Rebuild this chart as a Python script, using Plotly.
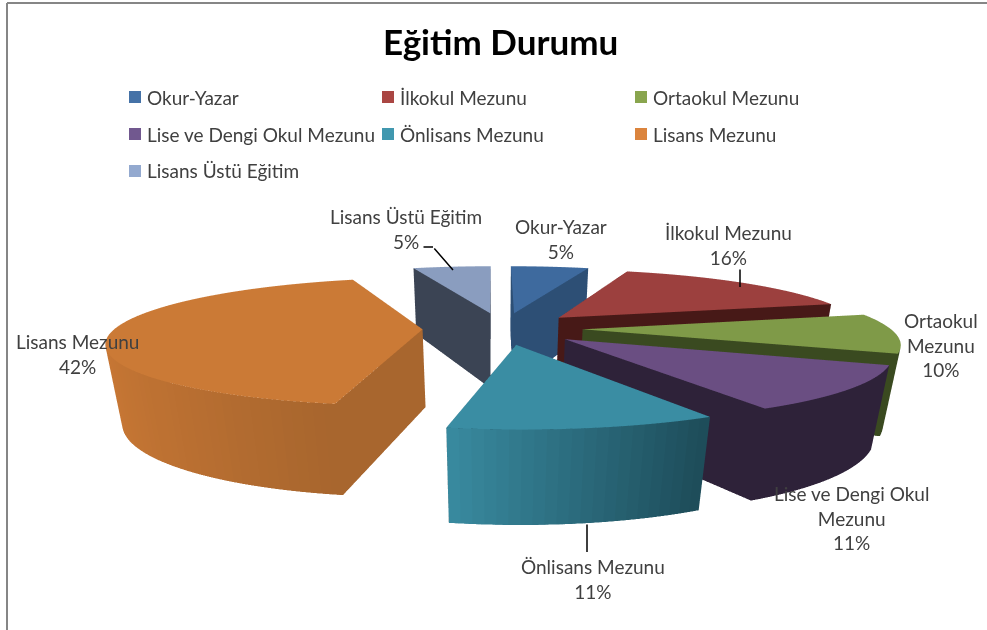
import math
import plotly.graph_objects as go

CATEGORIES = ["Okur-Yazar", "İlkokul Mezunu", "Ortaokul Mezunu", "Lise ve Dengi Okul Mezunu",
              "Önlisans Mezunu", "Lisans Mezunu", "Lisans Üstü Eğitim"]
VALUES = [5, 16, 10, 11, 11, 42, 5]
TOP_COLORS = ["#3E6A9E", "#9C403E", "#7F9A48", "#6A4E82", "#3A8DA3", "#CB7A36", "#8A9DBF"]
SIDE_COLORS = ["#2D4F75", "#471917", "#3A4A20", "#2E2239", "#1E4D5A", "#A8662E", "#3B4454"]
RIM_LEFT = ["#2D4F75", "#471917", "#3A4A20", "#2E2239", "#3A8CA2", "#C97835", "#3B4454"]
RIM_RIGHT = ["#2D4F75", "#471917", "#3A4A20", "#2E2239", "#1E4D5A", "#A8662E", "#3B4454"]
LEGEND_COLORS = ["#4572A7", "#AA4643", "#89A54E", "#71588F", "#4198AF", "#DB843D", "#93A9CF"]
EXPLODE = 0.26
W, H = 987, 630


def hex2rgb(c):
    return [int(c[i:i + 2], 16) for i in (1, 3, 5)]


def mix(a, b, t):
    a, b = hex2rgb(a), hex2rgb(b)
    return "rgb(%d,%d,%d)" % tuple(a[i] + (b[i] - a[i]) * t for i in range(3))


fig = go.Figure()
total = sum(VALUES)
cum = 0.0
for i, v in enumerate(VALUES):
    a0 = cum / total * 2 * math.pi
    a1 = (cum + v) / total * 2 * math.pi
    cum += v
    mid = (a0 + a1) / 2
    ox, oy = EXPLODE * math.sin(mid), EXPLODE * math.cos(mid)
    n = max(3, int(v * 2))
    angs = [a0 + (a1 - a0) * k / n for k in range(n + 1)]
    sins = [math.sin(a) for a in angs]
    smin, smax = min(sins), max(sins)
    xs, ys, zs = [ox, ox], [oy, oy], [1.0, 0.0]
    for a in angs:
        px, py = ox + math.sin(a), oy + math.cos(a)
        xs += [px, px]
        ys += [py, py]
        zs += [1.0, 0.0]
    I, J, K, fc = [], [], [], []
    for k in range(n):
        t0 = 2 + 2 * k
        # top
        I.append(0); J.append(t0); K.append(t0 + 2); fc.append(TOP_COLORS[i])
        # rim
        t = (sins[k] - smin) / (smax - smin)
        col = mix(RIM_LEFT[i], RIM_RIGHT[i], t)
        I += [t0, t0]; J += [t0 + 1, t0 + 3]; K += [t0 + 3, t0 + 2]; fc += [col, col]
    # cut faces
    last = 2 + 2 * n
    I += [0, 0, 0, 0]
    J += [1, 3, 1, last + 1]
    K += [3, 2, last + 1, last]
    fc += [SIDE_COLORS[i]] * 4
    fig.add_trace(go.Mesh3d(x=xs, y=ys, z=zs, i=I, j=J, k=K, facecolor=fc, flatshading=True,
                            name=CATEGORIES[i], hoverinfo="name",
                            lighting=dict(ambient=1, diffuse=0, specular=0, fresnel=0, roughness=1),
                            showscale=False))

axis = dict(visible=False, showgrid=False, zeroline=False, showbackground=False)
CX, CZ = -0.036, 0.232
fig.update_layout(
    width=W, height=H, margin=dict(l=0, r=0, t=0, b=0), paper_bgcolor="white", showlegend=False,
    font=dict(family="Lato", color="#404040"),
    scene=dict(
        domain=dict(x=[0, 1], y=[0, 1]),
        bgcolor="rgba(0,0,0,0)",
        xaxis=dict(axis, range=[-1.5, 1.5]),
        yaxis=dict(axis, range=[-1.5, 1.5]),
        zaxis=dict(axis, range=[0, 1]),
        aspectmode="manual",
        aspectratio=dict(x=3.663, y=1.866, z=0.35),
        camera=dict(projection=dict(type="perspective"), eye=dict(x=CX, y=-2.78, z=1.124 + CZ),
                    center=dict(x=CX, y=0, z=CZ), up=dict(x=0, y=0, z=1)),
    ),
)

LEGEND_X = [129, 382, 635]
LEGEND_Y = [97, 134, 171]
shapes = [
    dict(type="line", xref="paper", yref="paper", x0=7 / W, x1=7 / W, y0=0, y1=1 - 3 / H, line=dict(color="#868686", width=2)),
    dict(type="line", xref="paper", yref="paper", x0=7 / W, x1=987 / W, y0=1 - 3 / H, y1=1 - 3 / H, line=dict(color="#868686", width=2)),
]
annots = [dict(text="<b>Eğitim Durumu</b>", x=500 / W, y=1 - 41 / H, xref="paper", yref="paper", showarrow=False,
               font=dict(size=35, color="black"), xanchor="center", yanchor="middle")]
for n, name in enumerate(CATEGORIES):
    lx, ly = LEGEND_X[n % 3], LEGEND_Y[n // 3]
    shapes.append(dict(type="rect", xref="paper", yref="paper", x0=lx / W, x1=(lx + 12) / W,
                       y0=1 - (ly + 6) / H, y1=1 - (ly - 6) / H, fillcolor=LEGEND_COLORS[n], line=dict(width=0)))
    annots.append(dict(text=name, x=(lx + 16) / W, y=1 - ly / H, xref="paper", yref="paper", showarrow=False,
                       xanchor="left", yanchor="middle", font=dict(size=19, color="#404040")))

LABELS = ["Okur-Yazar<br>5%", "İlkokul Mezunu<br>16%", "Ortaokul<br>Mezunu<br>10%", "Lise ve Dengi Okul<br>Mezunu<br>11%",
          "Önlisans Mezunu<br>11%", "Lisans Mezunu<br>42%", "Lisans Üstü Eğitim<br>5%"]
LABEL_POS = [(561, 239), (728, 245), (941, 345), (851, 518), (593, 579), (77, 354), (406, 229)]
for txt, (x, y) in zip(LABELS, LABEL_POS):
    annots.append(dict(text=txt, x=x / W, y=1 - y / H, xref="paper", yref="paper", showarrow=False,
                       xanchor="center", yanchor="middle", font=dict(size=19, color="#404040")))
LEADERS = [((740, 268), (740, 287)), ((587, 523), (587, 552)), ((422, 247), (433, 247)), ((433, 247), (453, 270))]
for (x0, y0), (x1, y1) in LEADERS:
    annots.append(dict(text="", x=x1 / W, y=1 - y1 / H, xref="paper", yref="paper", ax=x0 - x1, ay=y0 - y1,
                       axref="pixel", ayref="pixel", showarrow=True, arrowhead=0, arrowwidth=1.5, arrowcolor="black"))
fig.update_layout(shapes=shapes, annotations=annots)
fig.write_html("out.html", config=dict(displayModeBar=False),
               post_script="document.body.style.margin='0';document.documentElement.style.overflow='hidden';")
